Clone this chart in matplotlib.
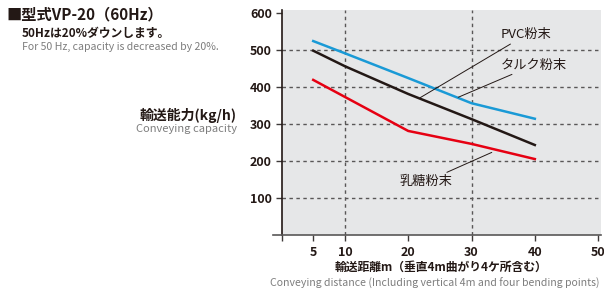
import matplotlib
matplotlib.use("Agg")
from matplotlib import pyplot as plt

plt.rcParams['font.family'] = ['Noto Sans CJK JP', 'DejaVu Sans']

# distances (m) and capacities (kg/h)
distance = [5, 10, 20, 30, 40]
talc = [523, 490, 423, 355, 313]      # タルク粉末 (blue)
pvc = [497, 455, 380, 312, 242]       # PVC粉末 (black)
lactose = [418, 372, 280, 245, 204]   # 乳糖粉末 (red)

x_ticks = [0, 5, 10, 20, 30, 40, 50]
x_tick_labels = ['', '5', '10', '20', '30', '40', '50']
y_ticks = [100, 200, 300, 400, 500, 600]

fig = plt.figure(figsize=(6.04, 2.91), dpi=100)
ax = fig.add_axes([272.7 / 604, 56.5 / 291, 328.6 / 604, 224.5 / 291])
ax.set_xlim(-1.4, 50.5)
ax.set_ylim(0, 607)

# gray plot area only right of the y axis
ax.axvspan(0, 50.5, color='#e6e7e8', zorder=0, lw=0)

for gx in [10, 30]:
    ax.axvline(gx, color='#595757', ls=(0, (2.5, 2.5)), lw=1, zorder=1)
for gy in [100, 200, 300, 400, 500]:
    ax.plot([0, 50.5], [gy, gy], color='#595757', ls=(0, (2.5, 2.5)), lw=1, zorder=1)

ax.plot(distance, talc, color='#1a9ad6', lw=1.8, zorder=3)
ax.plot(distance, pvc, color='#231815', lw=1.8, zorder=3)
ax.plot(distance, lactose, color='#e60012', lw=1.8, zorder=3)

# leader lines and labels
lead = dict(arrowstyle='-', color='#231815', lw=0.7, shrinkA=0, shrinkB=0)
ax.annotate('PVC粉末', xy=(21.9, 370), xytext=(34.6, 540), arrowprops=lead,
            fontsize=9.5, va='center', ha='left', color='#231815')
ax.annotate('タルク粉末', xy=(27.9, 371), xytext=(34.6, 458), arrowprops=lead,
            fontsize=9.5, va='center', ha='left', color='#231815')
ax.annotate('乳糖粉末', xy=(33.2, 222), xytext=(27.0, 143), arrowprops=lead,
            fontsize=9.5, va='center', ha='right', color='#231815')

for s in ['top', 'right']:
    ax.spines[s].set_visible(False)
ax.spines['left'].set_position(('data', 0))
ax.spines['left'].set_color('#231815')
ax.spines['bottom'].set_color('#595757')
ax.spines['left'].set_linewidth(1.2)
ax.spines['bottom'].set_linewidth(1.2)

ax.set_xticks(x_ticks)
ax.set_xticklabels(x_tick_labels)
ax.set_yticks(y_ticks)
ax.set_yticklabels([str(v) for v in y_ticks])
ax.tick_params(axis='both', direction='out', length=4, width=1, color='#3e3a39',
               labelsize=9, labelcolor='#231815', pad=3)
ax.tick_params(axis='x', pad=4)
for lbl in ax.get_xticklabels() + ax.get_yticklabels():
    lbl.set_fontweight('bold')

# titles and axis labels (figure coordinates)
fig.text(6 / 604, 1 - 14 / 291, '■型式VP-20（60Hz）', fontsize=11, fontweight='bold',
         color='#231815', va='center', ha='left')
fig.text(22 / 604, 1 - 33 / 291, '50Hzは20%ダウンします。', fontsize=8.5, fontweight='bold',
         color='#231815', va='center', ha='left')
fig.text(22 / 604, 1 - 47 / 291, 'For 50 Hz, capacity is decreased by 20%.', fontsize=7.6,
         color='#7d7d7d', va='center', ha='left')
fig.text(237 / 604, 1 - 115 / 291, '輸送能力(kg/h)', fontsize=10, fontweight='bold',
         color='#231815', va='center', ha='right')
fig.text(237 / 604, 1 - 129 / 291, 'Conveying capacity', fontsize=8,
         color='#7d7d7d', va='center', ha='right')
fig.text(441 / 604, 1 - 267 / 291, '輸送距離m（垂直4m曲がり4ケ所含む）', fontsize=8.5,
         fontweight='bold', color='#231815', va='center', ha='center')
fig.text(435 / 604, 1 - 283 / 291,
         'Conveying distance (Including vertical 4m and four bending points)', fontsize=7.6,
         color='#7d7d7d', va='center', ha='center')

fig.savefig('out.png', dpi=100)
